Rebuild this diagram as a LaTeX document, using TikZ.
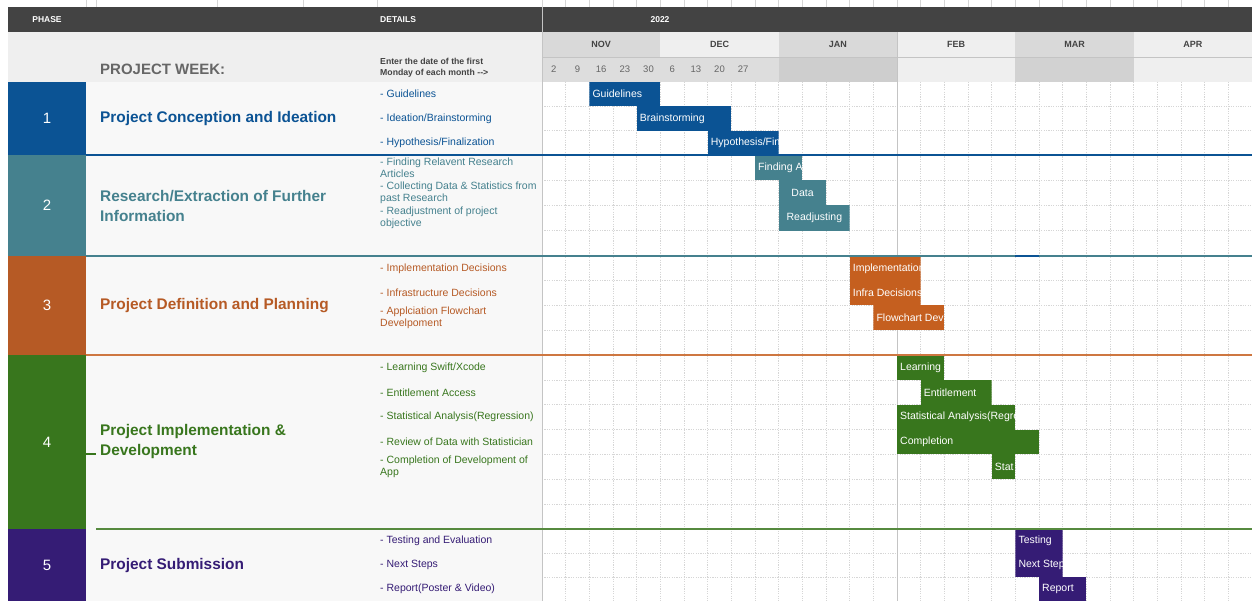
\documentclass[tikz,border=0pt]{standalone}
\usepackage{fontspec}
\setmainfont{Liberation Sans}
\usetikzlibrary{positioning}

\definecolor{headdark}{HTML}{434343}
\definecolor{headlight}{HTML}{EFEFEF}
\definecolor{headmid}{HTML}{D9D9D9}
\definecolor{panel}{HTML}{F8F8F8}
\definecolor{gridgray}{HTML}{D6D6D6}
\definecolor{rulegray}{HTML}{C4C4C4}
\definecolor{pblue}{HTML}{0B5394}
\definecolor{pteal}{HTML}{45818E}
\definecolor{porange}{HTML}{B65A25}
\definecolor{porangebar}{HTML}{C55F1F}
\definecolor{pgreen}{HTML}{38761D}
\definecolor{ppurple}{HTML}{351C75}

\tikzset{
  headtext/.style={text=white, font=\fontsize{8.5}{10}\selectfont\bfseries, inner sep=0pt},
  monthtext/.style={text=headdark, font=\fontsize{9}{10}\selectfont\bfseries, inner sep=0pt},
  weektext/.style={text=black!60, font=\fontsize{9.5}{11}\selectfont, inner sep=0pt},
  phasenum/.style={text=white, font=\fontsize{15}{18}\selectfont, inner sep=0pt},
  phasetitle/.style={text=#1, font=\fontsize{15.4}{20}\selectfont\bfseries, anchor=west, align=left, inner sep=0pt},
  detail/.style={text=#1, font=\fontsize{10.5}{12}\selectfont, anchor=west, align=left, inner sep=0pt},
  bartext/.style={text=white, font=\fontsize{10.5}{12}\selectfont, inner sep=0pt, anchor=west},
  gridline/.style={gridgray, line width=0.6pt, dash pattern=on 1.2pt off 1.2pt},
  phaserule/.style={#1, line width=2pt},
}

\def\wk{23.667}
% task bar: [l/c] name, colour, first week, end week, row top, label
\newcommand{\taskbar}[7][l]{%
  \pgfmathsetmacro{\bx}{542+#4*\wk}%
  \pgfmathsetmacro{\ex}{542+#5*\wk}%
  \pgfmathsetmacro{\bw}{(#5-#4)*\wk-6}%
  \begin{scope}
    \clip (\bx,#6) rectangle (\ex,#6+\rh);
    \fill[#3] (\bx,#6) rectangle (\ex,#6+\rh);
    \node[bartext] (#2) at (\bx+3,#6+\rh/2) {\makebox[\bw pt][#1]{#7}};
  \end{scope}}

\begin{document}
\begin{tikzpicture}[x=1pt, y=-1pt]
\useasboundingbox (0,0) rectangle (1252,601);
\fill[white] (0,0) rectangle (1252,601);

% column ticks above the header
\foreach \cx in {86,96.7,217,303,377}
  \draw[gridgray, line width=0.6pt] (\cx,0) -- (\cx,7);
\foreach \k in {0,...,29}
  \draw[gridgray, line width=0.6pt] (542+\k*\wk,0) -- (542+\k*\wk,7);

% header bands
\fill[headdark] (8,7) rectangle (1252,32);
\fill[headlight] (8,32) rectangle (542,82);
\foreach \m/\mcol/\wcol in {0/headmid/headmid!90!white, 1/headlight/headmid!90!white, 2/headmid/headmid!95!black,
                            3/headlight/headlight, 4/headmid/headmid!97!black, 5/headlight/headlight} {
  \fill[\mcol] (542+\m*5*\wk,32) rectangle (542+\m*5*\wk+5*\wk,57);
  \fill[\wcol] (542+\m*5*\wk,57) rectangle (542+\m*5*\wk+5*\wk,82);
}
\draw[rulegray, line width=0.6pt] (542,57) -- (1252,57);

\node[headtext] (phasehead) at (47,19.5) {PHASE};
\node[headtext, anchor=west] (detailhead) at (380,19.5) {DETAILS};
\node[headtext] (yearhead) at (660,19.5) {2022};

\foreach \m/\name in {0/NOV,1/DEC,2/JAN,3/FEB,4/MAR,5/APR}
  \node[monthtext] (month\m) at (542+\m*5*\wk+2.5*\wk,44.5) {\name};
\foreach \w/\day in {0/2,1/9,2/16,3/23,4/30,5/6,6/13,7/20,8/27}
  \node[weektext] (week\w) at (542+\w*\wk+0.5*\wk,69.5) {\day};

\node[text=black!60, font=\fontsize{15}{18}\selectfont\bfseries, anchor=west, inner sep=0pt] (weeklabel) at (100,69) {PROJECT WEEK:};
\node[text=headdark, font=\fontsize{8.7}{11}\selectfont\bfseries, anchor=west, align=left, inner sep=0pt] (hint) at (380,67.5)
  {Enter the date of the first\\Monday of each month -{}->};

% phase column and detail panel
\fill[panel] (86,82) rectangle (542,601);
\foreach \ya/\yb/\col/\num in {82/155/pblue/1, 155/256/pteal/2, 256/355/porange/3, 355/529/pgreen/4, 529/601/ppurple/5} {
  \fill[\col] (8,\ya) rectangle (86,\yb);
  \node[phasenum] (num\num) at (47,{(\ya+\yb)/2}) {\num};
}

\node[phasetitle=pblue] (title1) at (100,118.5) {Project Conception and Ideation};
\node[phasetitle=pteal] (title2) at (100,205.5) {Research/Extraction of Further\\Information};
\node[phasetitle=porange] (title3) at (100,305.5) {Project Definition and Planning};
\node[phasetitle=pgreen] (title4) at (100,442) {Project Implementation \&\\Development};
\node[phasetitle=ppurple] (title5) at (100,566) {Project Submission};

\node[detail=pblue] (d11) at (380,94.2) {- Guidelines};
\node[detail=pblue] (d12) at (380,118.5) {- Ideation/Brainstorming};
\node[detail=pblue] (d13) at (380,142.8) {- Hypothesis/Finalization};
\node[detail=pteal] (d21) at (380,167.6) {- Finding Relavent Research\\Articles};
\node[detail=pteal] (d22) at (380,192.9) {- Collecting Data \& Statistics from\\past Research};
\node[detail=pteal] (d23) at (380,218.1) {- Readjustment of project\\objective};
\node[detail=porange] (d31) at (380,268.4) {- Implementation Decisions};
\node[detail=porange] (d32) at (380,293.1) {- Infrastructure Decisions};
\node[detail=porange] (d33) at (380,317.9) {- Applciation Flowchart\\Develpoment};
\node[detail=pgreen] (d41) at (380,367.4) {- Learning Swift/Xcode};
\node[detail=pgreen] (d42) at (380,392.3) {- Entitlement Access};
\node[detail=pgreen] (d43) at (380,417.1) {- Statistical Analysis(Regression)};
\node[detail=pgreen] (d44) at (380,442) {- Review of Data with Statistician};
\node[detail=pgreen] (d45) at (380,466.9) {- Completion of Development of\\App};
\node[detail=ppurple] (d51) at (380,541) {- Testing and Evaluation};
\node[detail=ppurple] (d52) at (380,565) {- Next Steps};
\node[detail=ppurple] (d53) at (380,589) {- Report(Poster \& Video)};

% week grid
\foreach \k in {1,...,29}
  \draw[gridline] (542+\k*\wk,82) -- (542+\k*\wk,601);
\foreach \ry in {106.33,130.67,180.25,205.5,230.75,280.75,305.5,330.25,
                 379.86,404.71,429.57,454.43,479.29,504.14,553,577}
  \draw[gridline] (542,\ry) -- (1252,\ry);
\draw[rulegray, line width=0.8pt] (542,7) -- (542,601);
\draw[rulegray, line width=0.8pt] (542+15*\wk,32) -- (542+15*\wk,601);

% bars
\def\rh{24.333}
\taskbar{guide}{pblue}{2}{5}{82}{Guidelines}
\taskbar{brain}{pblue}{4}{8}{106.33}{Brainstorming}
\taskbar{hypo}{pblue}{7}{10}{130.67}{Hypothesis/Finalization}
\def\rh{25.25}
\taskbar{find}{pteal}{9}{11}{155}{Finding A}
\taskbar[c]{data}{pteal}{10}{12}{180.25}{Data}
\taskbar[c]{readj}{pteal}{10}{13}{205.5}{Readjusting}
\def\rh{24.75}
\taskbar{impl}{porangebar}{13}{16}{256}{Implementation}
\taskbar{infra}{porangebar}{13}{16}{280.75}{Infra Decisions}
\taskbar{flow}{porangebar}{14}{17}{305.5}{Flowchart Dev}
\def\rh{24.857}
\taskbar{learn}{pgreen}{15}{17}{355}{Learning}
\taskbar{entit}{pgreen}{16}{19}{379.86}{Entitlement}
\taskbar{stats}{pgreen}{15}{20}{404.71}{Statistical Analysis(Regression)}
\taskbar{compl}{pgreen}{15}{21}{429.57}{Completion}
\taskbar{stat}{pgreen}{19}{20}{454.43}{Stat}
\def\rh{24}
\taskbar{test}{ppurple}{20}{22}{529}{Testing}
\taskbar{next}{ppurple}{20}{22}{553}{Next Steps}
\taskbar{report}{ppurple}{21}{23}{577}{Report}

% phase separators
\draw[phaserule=pblue] (86,155) -- (1252,155);
\draw[phaserule=pteal] (86,256) -- (1252,256);
\draw[phaserule=pblue] (542+20*\wk,256) -- (542+21*\wk,256);
\draw[phaserule=porangebar!85!white] (86,355) -- (1252,355);
\draw[phaserule=pgreen!85!white] (96,529) -- (1252,529);
\draw[pgreen, line width=1.2pt] (86,454) -- (96,454);
\end{tikzpicture}
\end{document}
